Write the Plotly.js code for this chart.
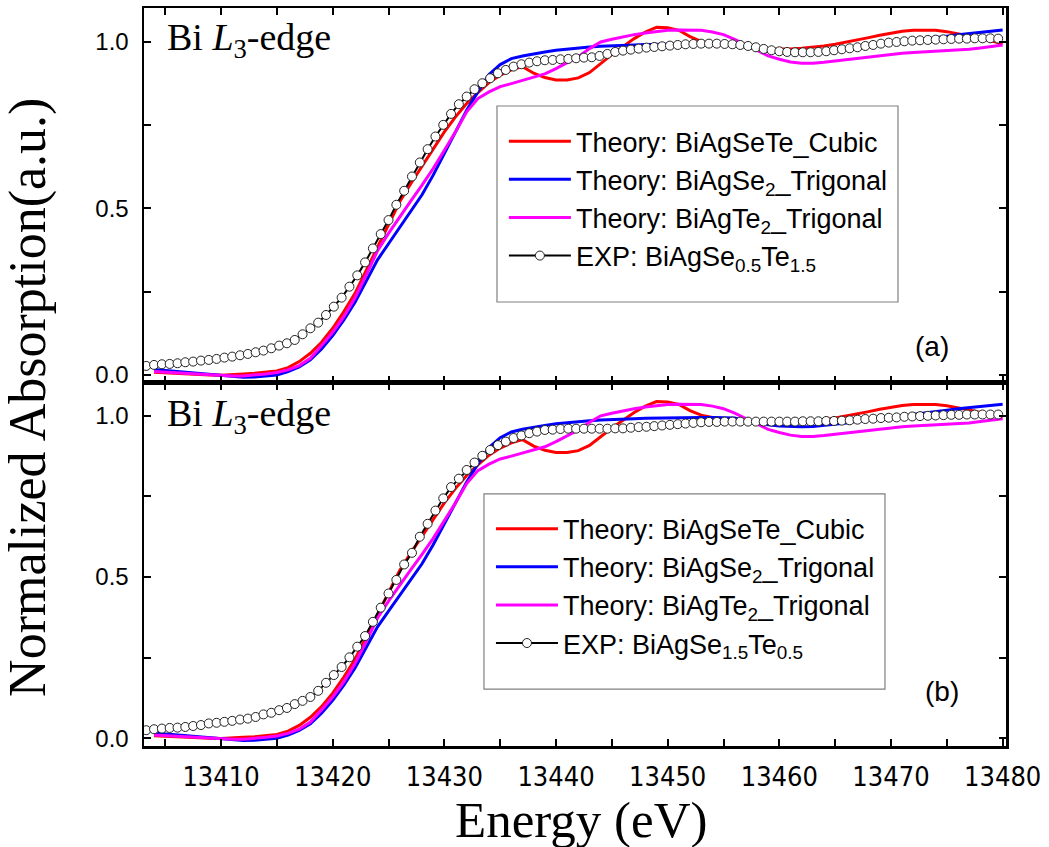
<!DOCTYPE html>
<html>
<head>
<meta charset="utf-8">
<script src="https://cdn.plot.ly/plotly-3.0.1.min.js"></script>
<style>html,body{margin:0;padding:0;background:#fff;}#chart{width:1049px;height:847px;}</style>
</head>
<body>
<div id="chart"></div>
<script>
// ---- theory energies (eV) ----
const thEnergy = [13404,13405,13406,13407,13408,13409,13410,13411,13412,13413,13414,13415,13416,13417,13418,13419,13420,13421,13422,13423,13424,13425,13426,13427,13428,13429,13430,13431,13432,13433,13434,13435,13436,13437,13438,13439,13440,13441,13442,13443,13444,13445,13446,13447,13448,13449,13450,13451,13452,13453,13454,13455,13456,13457,13458,13459,13460,13461,13462,13463,13464,13465,13466,13467,13468,13469,13470,13471,13472,13473,13474,13475,13476,13477,13478,13479,13480];
// Theory: BiAgSeTe_Cubic
const thCubic = [0.008,0.006,0.004,0.002,0.001,0.000,-0.001,0.000,0.003,0.005,0.008,0.012,0.022,0.040,0.065,0.098,0.140,0.190,0.245,0.315,0.385,0.455,0.520,0.575,0.628,0.680,0.730,0.775,0.815,0.848,0.878,0.900,0.916,0.926,0.906,0.893,0.886,0.886,0.892,0.908,0.935,0.962,0.986,1.010,1.030,1.044,1.043,1.035,1.016,1.002,0.995,0.991,0.987,0.984,0.981,0.979,0.978,0.979,0.981,0.984,0.988,0.993,0.999,1.006,1.013,1.020,1.027,1.032,1.035,1.036,1.035,1.031,1.025,1.018,1.010,1.002,0.995];
// Theory: BiAgSe2_Trigonal
const thSe2 = [0.016,0.013,0.010,0.007,0.004,0.000,-0.003,-0.005,-0.007,-0.006,-0.004,0.000,0.010,0.024,0.045,0.078,0.118,0.165,0.218,0.282,0.345,0.394,0.443,0.492,0.541,0.600,0.665,0.730,0.795,0.850,0.902,0.932,0.950,0.958,0.965,0.970,0.975,0.979,0.983,0.985,0.987,0.989,0.990,0.991,0.992,0.993,0.994,0.994,0.995,0.995,0.995,0.995,0.993,0.985,0.978,0.972,0.968,0.966,0.966,0.967,0.970,0.974,0.978,0.983,0.987,0.991,0.995,0.999,1.003,1.007,1.012,1.017,1.022,1.026,1.030,1.033,1.036];
// Theory: BiAgTe2_Trigonal
const thTe2 = [0.010,0.008,0.006,0.004,0.002,0.000,-0.002,-0.003,-0.003,-0.001,0.003,0.007,0.015,0.028,0.050,0.088,0.128,0.175,0.232,0.300,0.372,0.425,0.475,0.523,0.570,0.620,0.675,0.730,0.790,0.830,0.850,0.866,0.875,0.884,0.894,0.904,0.920,0.938,0.956,0.980,1.000,1.008,1.016,1.022,1.027,1.032,1.035,1.036,1.036,1.035,1.030,1.022,1.008,0.992,0.974,0.958,0.948,0.940,0.936,0.936,0.939,0.943,0.947,0.951,0.955,0.959,0.963,0.966,0.968,0.970,0.972,0.973,0.975,0.978,0.982,0.987,0.991];

// ---- experimental energies (eV) ----
const expEnergy = [13403.3,13404.0,13404.7,13405.4,13406.1,13406.8,13407.5,13408.2,13408.9,13409.6,13410.3,13411.0,13411.7,13412.4,13413.1,13413.8,13414.5,13415.2,13415.9,13416.6,13417.3,13418.0,13418.7,13419.4,13420.1,13420.8,13421.5,13422.2,13422.9,13423.6,13424.3,13425.0,13425.7,13426.4,13427.1,13427.8,13428.5,13429.2,13429.9,13430.6,13431.3,13432.0,13432.7,13433.4,13434.1,13434.8,13435.5,13436.2,13436.9,13437.6,13438.3,13439.0,13439.7,13440.4,13441.1,13441.8,13442.5,13443.2,13443.9,13444.6,13445.3,13446.0,13446.7,13447.4,13448.1,13448.8,13449.5,13450.2,13450.9,13451.6,13452.3,13453.0,13453.7,13454.4,13455.1,13455.8,13456.5,13457.2,13457.9,13458.6,13459.3,13460.0,13460.7,13461.4,13462.1,13462.8,13463.5,13464.2,13464.9,13465.6,13466.3,13467.0,13467.7,13468.4,13469.1,13469.8,13470.5,13471.2,13471.9,13472.6,13473.3,13474.0,13474.7,13475.4,13476.1,13476.8,13477.5,13478.2,13478.9,13479.6];
// EXP: BiAgSe0.5Te1.5 (panel a)
const expA = [0.027,0.030,0.032,0.033,0.035,0.038,0.040,0.043,0.045,0.048,
0.052,0.055,0.059,0.063,0.068,0.073,0.080,0.088,0.095,0.105,
0.122,0.140,0.157,0.180,0.205,0.232,0.265,0.299,0.338,0.380,
0.423,0.465,0.511,0.553,0.596,0.638,0.678,0.716,0.751,0.784,
0.813,0.836,0.858,0.876,0.891,0.906,0.916,0.926,0.933,0.938,
0.942,0.945,0.946,0.948,0.949,0.951,0.953,0.954,
0.958,0.964,0.970,0.974,0.977,0.980,0.983,0.985,0.987,0.989,
0.991,0.993,0.994,0.995,0.995,0.995,0.994,0.993,0.991,0.988,
0.984,0.979,0.975,0.972,0.970,0.969,0.969,0.969,0.970,0.972,
0.975,0.978,0.981,0.984,0.988,0.991,0.995,0.998,1.000,1.002,
1.004,1.005,1.006,1.007,1.008,1.009,1.010,1.010,1.011,1.011,
1.011,1.010];
// EXP: BiAgSe1.5Te0.5 (panel b)
const expB = [0.025,0.028,0.030,0.032,0.033,0.035,0.038,0.041,0.046,0.048,
0.051,0.054,0.058,0.061,0.066,0.074,0.079,0.087,0.094,0.106,
0.116,0.128,0.147,0.172,0.196,0.221,0.251,0.284,0.317,0.361,
0.405,0.449,0.491,0.539,0.575,0.625,0.665,0.706,0.744,0.779,
0.805,0.832,0.855,0.876,0.894,0.909,0.920,0.931,0.939,0.946,
0.951,0.956,0.957,0.959,0.960,0.960,0.960,0.960,
0.960,0.960,0.961,0.961,0.963,0.965,0.966,0.968,0.970,0.972,
0.974,0.976,0.978,0.980,0.981,0.981,0.982,0.982,0.982,0.982,
0.982,0.982,0.982,0.982,0.982,0.982,0.983,0.983,0.983,0.984,
0.984,0.985,0.986,0.988,0.990,0.991,0.993,0.994,0.995,0.997,
0.998,0.999,1.000,1.001,1.002,1.003,1.003,1.004,1.004,1.004,
1.004,1.004];

const names = ['Theory: BiAgSeTe_Cubic','Theory: BiAgSe<sub>2</sub>_Trigonal','Theory: BiAgTe<sub>2</sub>_Trigonal'];
const expNames = ['EXP: BiAgSe<sub>0.5</sub>Te<sub>1.5</sub>','EXP: BiAgSe<sub>1.5</sub>Te<sub>0.5</sub>'];
const panelLabels = ['(a)','(b)'];
const colors = ['#FF0000','#0000FF','#FF00FF'];

const SANS = 'Liberation Sans, Arial, sans-serif';
const NARROW = 'Liberation Sans Narrow, Arial Narrow, DejaVu Sans Condensed, Liberation Sans, sans-serif';
const SERIF = 'Liberation Serif, Times New Roman, serif';

const theories = [thCubic, thSe2, thTe2];
const expSets = [expA, expB];
const traces = [];
[0,1].forEach(function(p){
  const xa = p === 0 ? 'x' : 'x2';
  const ya = p === 0 ? 'y' : 'y2';
  const lg = p === 0 ? 'legend' : 'legend2';
  theories.forEach(function(arr, i){
    traces.push({x: thEnergy, y: arr, xaxis: xa, yaxis: ya, legend: lg, type: 'scatter', mode: 'lines',
      name: names[i], line: {color: colors[i], width: 3}});
  });
  traces.push({x: expEnergy, y: expSets[p], xaxis: xa, yaxis: ya, legend: lg, type: 'scatter', mode: 'lines+markers',
    name: expNames[p], line: {color: '#000000', width: 2},
    marker: {symbol: 'circle', size: 9, color: '#FFFFFF', line: {color: '#222222', width: 1}}});
});

const xRange = [13403.1, 13480.3];
const yRange = [-0.024, 1.102];
function xAxis(showLabels, anchor){
  return {anchor: anchor, domain: [0,1], range: xRange, showgrid: false, zeroline: false,
    showline: true, linecolor: '#000', linewidth: 2.5, mirror: 'ticks',
    ticks: 'inside', ticklen: 7, tickwidth: 2, tickcolor: '#000', tick0: 13410, dtick: 10, tickformat: 'd',
    minor: {ticks: 'inside', ticklen: 7, tickwidth: 2, tickcolor: '#000', dtick: 5, tick0: 13405},
    showticklabels: showLabels, tickfont: {family: NARROW, size: 27, color: '#000'}, ticklabelstandoff: 5};
}
function yAxis(domain, anchor){
  return {anchor: anchor, domain: domain, range: yRange, showgrid: false, zeroline: false,
    showline: true, linecolor: '#000', linewidth: 2.5, mirror: 'ticks',
    ticks: 'inside', ticklen: 7, tickwidth: 2, tickcolor: '#000', tick0: 0, dtick: 0.5, tickformat: '.1f',
    minor: {ticks: 'inside', ticklen: 7, tickwidth: 2, tickcolor: '#000', dtick: 0.25},
    tickfont: {family: SANS, size: 24, color: '#000'}, ticklabelstandoff: 8};
}
function legendCfg(x, y){
  return {x: x, y: y, xanchor: 'left', yanchor: 'top', xref: 'paper', yref: 'paper',
    bgcolor: 'rgba(0,0,0,0)', borderwidth: 0, itemwidth: 62,
    font: {family: SANS, size: 27, color: '#000'}};
}

const layout = {
  width: 1049, height: 847, paper_bgcolor: '#fff', plot_bgcolor: '#fff',
  margin: {l: 144, r: 43, t: 8, b: 101},
  showlegend: true,
  xaxis: xAxis(false, 'y'),
  yaxis: yAxis([0.492, 1], 'x'),
  xaxis2: xAxis(true, 'y2'),
  yaxis2: yAxis([0, 0.492], 'x2'),
  legend: legendCfg(0.4175, 0.852),
  legend2: legendCfg(0.4025, 0.327),
  shapes: [
    {type: 'rect', xref: 'paper', yref: 'paper', x0: 0.4095, x1: 0.8747, y0: 0.6016, y1: 0.8672, line: {color: '#808080', width: 1.2}},
    {type: 'rect', xref: 'paper', yref: 'paper', x0: 0.3944, x1: 0.8596, y0: 0.0772, y1: 0.3415, line: {color: '#808080', width: 1.2}}
  ],
  annotations: [
    {text: 'Bi <i>L</i><sub>3</sub>-edge', xref: 'paper', yref: 'paper', x: 0.024, y: 0.9566, xanchor: 'left', yanchor: 'middle', showarrow: false, font: {family: SERIF, size: 38, color: '#000'}},
    {text: 'Bi <i>L</i><sub>3</sub>-edge', xref: 'paper', yref: 'paper', x: 0.024, y: 0.4472, xanchor: 'left', yanchor: 'middle', showarrow: false, font: {family: SERIF, size: 38, color: '#000'}},
    {text: panelLabels[0], xref: 'paper', yref: 'paper', x: 0.9142, y: 0.5407, xanchor: 'center', yanchor: 'middle', showarrow: false, font: {family: SANS, size: 28, color: '#000'}},
    {text: panelLabels[1], xref: 'paper', yref: 'paper', x: 0.9258, y: 0.0732, xanchor: 'center', yanchor: 'middle', showarrow: false, font: {family: SANS, size: 28, color: '#000'}},
    {text: 'Normalized Absorption(a.u.)', xref: 'paper', yref: 'paper', x: -0.1346, y: 0.473, xanchor: 'center', yanchor: 'middle', textangle: -90, showarrow: false, font: {family: SERIF, size: 52, color: '#000'}},
    {text: 'Energy (eV)', xref: 'paper', yref: 'paper', x: 0.507, y: -0.1003, xanchor: 'center', yanchor: 'middle', showarrow: false, font: {family: SERIF, size: 51, color: '#000'}}
  ]
};

Plotly.newPlot('chart', traces, layout, {displayModeBar: false, staticPlot: true});
</script>
</body>
</html>
